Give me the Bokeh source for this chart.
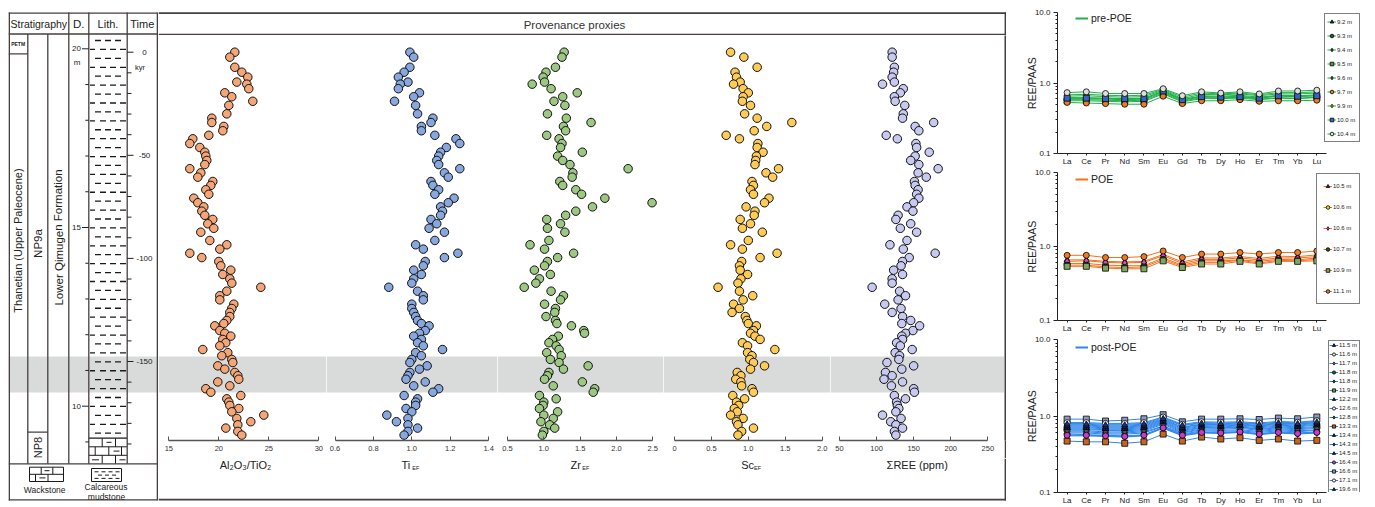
from bokeh.plotting import figure
from bokeh.models import (Range1d, FixedTicker, Legend, LegendItem, BoxAnnotation,
                          PrintfTickFormatter, Spacer)
from bokeh.layouts import row, column
from bokeh.embed import file_html
from bokeh.resources import INLINE
from bokeh.core.properties import value
from bokeh.core.validation import silence
from bokeh.core.validation.warnings import MISSING_RENDERERS

silence(MISSING_RENDERERS, True)

# ------------------------------------------------------------------ data
TIME_KYR = [0, -2.4, -7.3, -9.7, -12.1, -14.5, -15.5, -17.7, -19.7, -21.6,
            -23.8, -25.8, -29.9, -32.0, -34.1, -36.0, -38.1, -40.3, -42.0, -44.3,
            -46.2, -48.5, -50.4, -52.5, -54.5, -56.5, -58.5, -60.6, -62.7, -64.6,
            -66.7, -68.9, -70.8, -73.0, -75.0, -77.1, -79.1, -81.1, -83.2, -85.4,
            -87.3, -91.3, -93.4, -95.5, -97.5, -99.6, -101.5, -103.6, -105.7, -107.8,
            -109.9, -112.0, -114.0, -115.9, -118.1, -120.1, -122.2, -124.3, -126.2, -128.2,
            -130.1, -131.6, -132.7, -135.0, -136.3, -137.7, -139.3, -140.9, -142.4, -144.2,
            -145.7, -147.2, -149.0, -150.5, -152.1, -153.7, -155.3, -156.9, -158.6, -159.9,
            -161.8, -163.2, -164.9, -166.5, -168.1, -169.7, -171.3, -172.8, -174.4, -176.0,
            -177.6, -179.2, -180.7, -182.3, -183.9, -185.7]

AL2O3_TIO2 = [21.6, 21.1, 21.6, 22.3, 22.9, 21.8, 22.8, 23.0, 20.6, 21.3,
              23.4, 21.0, 20.8, 19.3, 19.3, 20.5, 20.4, 19.0, 17.4, 17.1,
              18.1, 18.6, 18.7, 18.8, 18.6, 17.1, 18.2, 17.9, 19.4, 19.2,
              18.7, 19.0, 17.5, 17.9, 18.5, 18.3, 18.6, 19.4, 18.9, 19.5,
              18.2, 19.1, 20.8, 20.1, 17.1, 18.3, 20.0, 20.2, 21.2, 20.4,
              21.1, 21.3, 24.2, 20.8, 20.1, 20.1, 21.5, 21.3, 21.1, 21.1,
              20.8, 20.5, 19.6, 20.1, 20.6, 21.2, 20.4, 20.7, 20.1, 18.4,
              20.9, 20.3, 21.3, 21.4, 19.9, 20.6, 21.6, 21.9, 22.0, 19.9,
              21.1, 18.7, 19.2, 22.2, 20.8, 21.0, 21.1, 22.0, 21.3, 24.5,
              21.8, 23.2, 21.9, 20.7, 21.9, 22.3]

TI_EF = [0.99, 1.01, 0.99, 0.96, 0.93, 0.98, 0.94, 0.93, 1.04, 1.01,
         0.91, 1.02, 1.03, 1.11, 1.10, 1.05, 1.05, 1.12, 1.23, 1.25,
         1.18, 1.15, 1.14, 1.13, 1.14, 1.25, 1.17, 1.19, 1.10, 1.11,
         1.14, 1.12, 1.22, 1.19, 1.15, 1.16, 1.15, 1.10, 1.13, 1.09,
         1.17, 1.12, 1.02, 1.06, 1.24, 1.17, 1.07, 1.06, 1.01, 1.05,
         1.01, 1.00, 0.88, 1.03, 1.06, 1.06, 1.00, 1.00, 1.01, 1.02,
         1.03, 1.05, 1.09, 1.07, 1.04, 1.01, 1.05, 1.03, 1.06, 1.16,
         1.02, 1.05, 1.00, 0.99, 1.08, 1.04, 0.99, 0.98, 0.97, 1.07,
         1.01, 1.14, 1.11, 0.96, 1.03, 1.02, 1.02, 0.97, 1.00, 0.87,
         0.98, 0.92, 0.98, 1.03, 0.98, 0.96]

ZR_EF = [1.28, 1.25, 1.16, 1.03, 0.99, 1.01, 0.84, 1.10, 1.46, 1.26,
         1.14, 1.29, 1.05, 1.31, 1.65, 1.27, 1.30, 1.04, 1.21, 1.25,
         1.23, 1.53, 1.19, 1.26, 1.36, 2.16, 1.40, 1.39, 1.22, 1.26,
         1.44, 1.52, 1.84, 2.49, 1.67, 1.44, 1.30, 1.04, 1.23, 1.05,
         1.29, 1.07, 0.81, 1.01, 1.41, 1.19, 1.05, 1.01, 0.87, 1.09,
         0.94, 0.89, 0.73, 1.10, 1.27, 1.23, 1.01, 1.16, 1.15, 1.03,
         1.16, 1.18, 1.38, 1.55, 1.56, 1.20, 1.12, 1.07, 1.17, 1.21,
         1.04, 1.24, 1.09, 1.21, 1.61, 1.27, 1.07, 1.05, 1.01, 1.53,
         1.13, 1.70, 1.68, 0.94, 1.17, 1.00, 0.99, 0.94, 1.19, 1.00,
         1.13, 0.96, 1.08, 1.15, 1.00, 0.98]

SC_EF = [0.76, 0.94, 1.12, 0.82, 0.84, 0.89, 0.80, 0.93, 1.00, 0.93,
         0.92, 1.03, 0.95, 1.12, 1.59, 1.25, 1.08, 0.70, 0.88, 1.13,
         1.12, 1.20, 1.11, 1.10, 1.09, 1.41, 1.24, 1.33, 1.05, 1.07,
         1.03, 1.07, 1.28, 1.22, 0.97, 1.09, 1.08, 0.89, 1.03, 0.92,
         1.19, 1.00, 0.76, 0.92, 1.39, 1.16, 0.91, 0.88, 0.89, 0.99,
         0.90, 0.86, 0.59, 0.88, 1.06, 0.93, 0.80, 0.88, 0.78, 0.96,
         0.98, 1.00, 1.11, 1.07, 1.03, 1.09, 1.16, 0.92, 0.99, 1.36,
         0.99, 1.05, 1.02, 1.07, 1.22, 1.03, 0.85, 0.90, 0.83, 0.90,
         0.91, 1.05, 1.07, 0.79, 0.95, 0.84, 0.87, 0.81, 0.85, 0.76,
         0.93, 0.84, 0.86, 1.07, 0.91, 0.86]

SUM_REE = [121, 121, 124, 123, 121, 124, 108, 136, 132, 124,
           125, 138, 136, 135, 177, 152, 157, 113, 128, 153,
           154, 171, 152, 146, 157, 183, 156, 167, 151, 152,
           156, 154, 157, 150, 141, 149, 129, 126, 146, 132,
           154, 141, 118, 136, 179, 144, 135, 133, 123, 135,
           121, 121, 94, 131, 139, 129, 111, 133, 121, 135,
           146, 134, 158, 149, 139, 134, 135, 127, 132, 148,
           125, 131, 130, 114, 150, 134, 112, 121, 110, 135,
           120, 150, 151, 124, 139, 127, 128, 130, 126, 108,
           133, 119, 126, 135, 124, 126]

POE_BAND_KYR = [-165.0, -147.6]

DEPTH_TICKS_M = [20, 19, 18, 17, 16, 15, 14, 13, 12, 11, 10, 9]
DEPTH_LABELS_M = [20, 15, 10]
TIME_TICKS_KYR = [0, -10, -20, -30, -40, -50, -60, -70, -80, -90, -100,
                  -110, -120, -130, -140, -150, -160, -170, -180, -190]
TIME_LABELS_KYR = [0, -50, -100, -150]

AL_TICKS = [15, 20, 25, 30]
TI_TICKS = [0.6, 0.8, 1.0, 1.2, 1.4]
ZR_TICKS = [0.5, 1.0, 1.5, 2.0, 2.5]
SC_TICKS = [0, 0.5, 1.0, 1.5, 2.0]
REE_TICKS = [50, 100, 150, 200, 250]

ELEMENTS = ["La", "Ce", "Pr", "Nd", "Sm", "Eu", "Gd", "Tb", "Dy", "Ho", "Er", "Tm", "Yb", "Lu"]

PRE_NAMES = ["9.2 m", "9.3 m", "9.4 m", "9.5 m", "9.6 m", "9.7 m", "9.9 m", "10.0 m", "10.4 m"]
PRE_REE = [
    [0.62, 0.62, 0.61, 0.60, 0.61, 0.76, 0.58, 0.66, 0.65, 0.67, 0.63, 0.67, 0.66, 0.68],
    [0.58, 0.58, 0.57, 0.56, 0.57, 0.72, 0.55, 0.62, 0.61, 0.63, 0.59, 0.62, 0.61, 0.63],
    [0.65, 0.66, 0.64, 0.63, 0.64, 0.79, 0.60, 0.69, 0.68, 0.70, 0.66, 0.70, 0.70, 0.72],
    [0.56, 0.56, 0.55, 0.54, 0.55, 0.70, 0.54, 0.60, 0.60, 0.61, 0.58, 0.61, 0.60, 0.62],
    [0.60, 0.60, 0.59, 0.58, 0.59, 0.74, 0.57, 0.64, 0.63, 0.65, 0.61, 0.65, 0.64, 0.66],
    [0.53, 0.52, 0.51, 0.50, 0.50, 0.65, 0.51, 0.56, 0.56, 0.58, 0.55, 0.56, 0.56, 0.57],
    [0.68, 0.69, 0.67, 0.66, 0.67, 0.81, 0.63, 0.72, 0.70, 0.72, 0.68, 0.73, 0.73, 0.75],
    [0.61, 0.61, 0.60, 0.60, 0.60, 0.77, 0.58, 0.64, 0.63, 0.64, 0.61, 0.66, 0.65, 0.66],
    [0.73, 0.75, 0.71, 0.71, 0.71, 0.83, 0.66, 0.75, 0.72, 0.75, 0.70, 0.77, 0.77, 0.79],
]
PRE_MARKERS = ["triangle", "circle", "diamond", "square", "diamond", "circle", "diamond", "square", "circle"]
PRE_FILLS = ["#1f2f70", "#1d5e2a", "#444444", "#5f9444", "#2f6f66", "#f07a22", "#e8c400", "#3565c4", "#dedede"]

POE_NAMES = ["10.5 m", "10.6 m", "10.6 m", "10.7 m", "10.9 m", "11.1 m"]
POE_REE = [
    [0.66, 0.66, 0.63, 0.62, 0.63, 0.78, 0.62, 0.70, 0.70, 0.73, 0.69, 0.74, 0.73, 0.77],
    [0.59, 0.59, 0.56, 0.55, 0.55, 0.70, 0.56, 0.64, 0.64, 0.66, 0.63, 0.67, 0.66, 0.70],
    [0.63, 0.64, 0.61, 0.60, 0.61, 0.75, 0.59, 0.67, 0.67, 0.70, 0.66, 0.70, 0.70, 0.73],
    [0.56, 0.56, 0.53, 0.52, 0.53, 0.67, 0.54, 0.61, 0.61, 0.65, 0.60, 0.65, 0.64, 0.67],
    [0.54, 0.54, 0.51, 0.50, 0.50, 0.64, 0.52, 0.58, 0.58, 0.63, 0.58, 0.63, 0.63, 0.64],
    [0.76, 0.76, 0.71, 0.71, 0.73, 0.87, 0.71, 0.79, 0.79, 0.83, 0.79, 0.83, 0.83, 0.87],
]
POE_MARKERS = ["triangle", "circle", "diamond", "circle", "square", "circle"]
POE_FILLS = ["#1f2f70", "#f2d21c", "#d54bd5", "#1d5e2a", "#7aa85e", "#f07a22"]

POST_NAMES = ["11.5 m", "11.6 m", "11.7 m", "11.8 m", "11.8 m", "11.9 m", "12.2 m", "12.6 m", "12.8 m",
              "13.3 m", "13.4 m", "14.3 m", "14.5 m", "16.4 m", "16.6 m", "17.1 m", "19.6 m"]
POST_REE = [
    [0.62, 0.62, 0.60, 0.60, 0.62, 0.74, 0.60, 0.66, 0.65, 0.66, 0.63, 0.66, 0.64, 0.66],
    [0.80, 0.80, 0.78, 0.78, 0.80, 0.95, 0.76, 0.82, 0.81, 0.82, 0.79, 0.83, 0.81, 0.85],
    [0.55, 0.55, 0.54, 0.53, 0.55, 0.69, 0.55, 0.60, 0.59, 0.61, 0.57, 0.60, 0.58, 0.60],
    [0.66, 0.66, 0.65, 0.64, 0.66, 0.80, 0.63, 0.70, 0.69, 0.71, 0.67, 0.70, 0.68, 0.71],
    [0.60, 0.60, 0.58, 0.58, 0.60, 0.73, 0.58, 0.64, 0.63, 0.64, 0.61, 0.64, 0.62, 0.65],
    [0.68, 0.68, 0.66, 0.66, 0.68, 0.82, 0.65, 0.71, 0.70, 0.72, 0.68, 0.72, 0.70, 0.73],
    [0.72, 0.72, 0.70, 0.70, 0.72, 0.86, 0.69, 0.75, 0.74, 0.76, 0.72, 0.76, 0.74, 0.78],
    [0.58, 0.57, 0.56, 0.55, 0.57, 0.71, 0.57, 0.62, 0.61, 0.62, 0.59, 0.62, 0.60, 0.62],
    [0.64, 0.64, 0.62, 0.62, 0.64, 0.78, 0.61, 0.68, 0.67, 0.69, 0.65, 0.68, 0.66, 0.69],
    [0.47, 0.46, 0.46, 0.44, 0.46, 0.58, 0.47, 0.53, 0.50, 0.52, 0.48, 0.50, 0.47, 0.48],
    [0.70, 0.70, 0.68, 0.68, 0.70, 0.84, 0.67, 0.73, 0.72, 0.74, 0.70, 0.74, 0.72, 0.76],
    [0.76, 0.76, 0.74, 0.74, 0.76, 0.90, 0.72, 0.78, 0.77, 0.79, 0.75, 0.80, 0.78, 0.82],
    [0.74, 0.74, 0.72, 0.72, 0.74, 0.88, 0.71, 0.77, 0.76, 0.77, 0.74, 0.78, 0.76, 0.80],
    [0.56, 0.56, 0.55, 0.54, 0.56, 0.70, 0.56, 0.61, 0.60, 0.62, 0.58, 0.61, 0.59, 0.61],
    [0.91, 0.91, 0.86, 0.88, 0.92, 1.04, 0.84, 0.91, 0.91, 0.92, 0.90, 0.94, 0.92, 0.97],
    [0.82, 0.82, 0.80, 0.80, 0.82, 0.97, 0.78, 0.84, 0.83, 0.84, 0.81, 0.85, 0.83, 0.87],
    [0.78, 0.78, 0.76, 0.76, 0.78, 0.92, 0.75, 0.80, 0.79, 0.81, 0.77, 0.81, 0.79, 0.83],
]
POST_MARKERS = ["triangle", "circle", "diamond", "circle", "diamond", "square", "triangle", "circle", "diamond",
                "square", "triangle", "diamond", "triangle", "circle", "square", "circle", "triangle"]
POST_FILLS = ["#1f2f70", "#f4ec90", "#d54bd5", "#1d5e2a", "#444444", "#6f9a52", "#1f2f70", "#f2f2f2", "#555555",
              "#c8641c", "#1f2f70", "#333333", "#1f2f70", "#c83cc8", "#8e98c8", "#ffffff", "#1f2f70"]

REE_YTICKS = [0.1, 1, 10]
REE_YMINOR = [0.2, 0.3, 0.4, 0.5, 0.6, 0.7, 0.8, 0.9, 2, 3, 4, 5, 6, 7, 8, 9]

# ------------------------------------------------------------------ style / layout
FONT = "Liberation Sans"
BOX = "#463f3f"
INK = "#222222"
AXC = "#555555"
BAND = "#d9dbdb"


def t_of(ypx):      # page pixel row -> time (kyr)
    return (51.7 - ypx) / 2.062


def d_of(ypx):      # page pixel row -> depth (m)
    return 20 - (ypx - 48.3) / 35.74


def bare(fig):
    fig.grid.visible = False
    return fig


def canvas(w, h, x0, y0):
    return bare(figure(width=w, height=h, x_range=Range1d(x0, x0 + w), y_range=Range1d(y0 + h, y0),
                       toolbar_location=None, output_backend="svg", min_border=0,
                       x_axis_location=None, y_axis_location=None, outline_line_color=None))


def rule(w, h):
    f = figure(width=w, height=h, toolbar_location=None, output_backend="svg", min_border=0,
               x_axis_location=None, y_axis_location=None, outline_line_color=None,
               background_fill_color=BOX, border_fill_color=BOX)
    return bare(f)


def txt(fig, x, y, s, size, align="center", angle=0, style="normal", color=INK):
    fig.text(x=[x], y=[y], text=[s], text_font=value(FONT), text_font_size=value(size),
             text_align=align, text_baseline="middle", angle=angle, text_font_style=style,
             text_color=color)


# ------------------------------------------------------------------ stratigraphy
S = canvas(150, 494, 8, 8)
S.extra_y_ranges = {"time": Range1d(t_of(502), t_of(8)), "depth": Range1d(d_of(502), d_of(8))}

S.quad(left=[8], right=[157], bottom=[POE_BAND_KYR[0]], top=[POE_BAND_KYR[1]],
       y_range_name="time", fill_color=BAND, line_color=None)

# lithology: mudstone dashes
dx0, dx1, dy = [], [], []
for i in range(45):
    yy = 40 + i * 8.925
    segs = [(94.5, 100.5), (104.5, 110.5), (114.5, 120.5)] if i % 2 == 0 else \
           [(89.5, 94.5), (99.5, 105.5), (109.5, 115.5), (119.5, 125.5)]
    for a, b in segs:
        dx0.append(a); dx1.append(b); dy.append(yy)
S.segment(x0=dx0, y0=dy, x1=dx1, y1=dy, line_color="#1a1a1a", line_width=1.3)

# wackstone bricks at the base
bx0 = [88.3, 88.3, 101.7, 115, 94.7, 108.3, 121, 101.7, 115, 106, 113, 91.5, 119]
by0 = [446.3, 454.8, 437.7, 437.7, 446.3, 446.3, 446.3, 454.8, 454.8, 441.8, 450.6, 459.3, 459.3]
bx1 = [126.7, 126.7, 101.7, 115, 94.7, 108.3, 121, 101.7, 115, 111, 119, 98.5, 125]
by1 = [446.3, 454.8, 446.3, 446.3, 454.8, 454.8, 454.8, 463.3, 463.3, 441.8, 450.6, 459.3, 459.3]
S.segment(x0=bx0, y0=by0, x1=bx1, y1=by1, line_color="#1a1a1a", line_width=1)
S.segment(x0=[88.3], y0=[437.7], x1=[126.7], y1=[437.7], line_color="#1a1a1a", line_width=1.2)

# frame and columns
fx0 = [8, 8, 8, 8, 68.3, 88.3, 126.7, 27.3, 47.3, 8, 27.3]
fy0 = [12.6, 499.4, 33.5, 463.3, 12, 12, 12, 33.5, 33.5, 53.3, 431.7]
fx1 = [157, 157, 157, 157, 68.3, 88.3, 126.7, 27.3, 47.3, 27.3, 47.3]
fy1 = [12.6, 499.4, 33.5, 463.3, 463.3, 463.3, 463.3, 463.3, 463.3, 53.3, 431.7]
S.segment(x0=fx0, y0=fy0, x1=fx1, y1=fy1, line_color=BOX, line_width=1.3)
S.segment(x0=[8.7, 157], y0=[12, 12], x1=[8.7, 157], y1=[500, 500], line_color=BOX, line_width=1.6)

# depth ticks (m)
S.segment(x0=[81.5 if d in DEPTH_LABELS_M else 84.8 for d in DEPTH_TICKS_M], y0=DEPTH_TICKS_M,
          x1=[88.3] * len(DEPTH_TICKS_M), y1=DEPTH_TICKS_M, y_range_name="depth",
          line_color=INK, line_width=1)
S.text(x=[80.5] * len(DEPTH_LABELS_M), y=DEPTH_LABELS_M, text=[str(d) for d in DEPTH_LABELS_M],
       y_range_name="depth", text_font=value(FONT), text_font_size=value("8px"),
       text_align="right", text_baseline="middle", text_color=INK)
txt(S, 76.5, 62, "m", "8px")

# time ticks (kyr)
S.segment(x0=[126.7] * len(TIME_TICKS_KYR), y0=TIME_TICKS_KYR,
          x1=[133 if t in TIME_LABELS_KYR else 131 for t in TIME_TICKS_KYR], y1=TIME_TICKS_KYR,
          y_range_name="time", line_color=INK, line_width=1)
S.text(x=[144] * len(TIME_LABELS_KYR), y=TIME_LABELS_KYR, text=[str(t) for t in TIME_LABELS_KYR],
       y_range_name="time", text_font=value(FONT), text_font_size=value("8px"),
       text_align="center", text_baseline="middle", text_color=INK)
txt(S, 139.5, 66.5, "kyr", "7.5px")

# headers and unit names
txt(S, 38.3, 23, "Stratigraphy", "10.5px")
txt(S, 78.3, 23, "D.", "11.5px")
txt(S, 107.5, 23, "Lith.", "11px")
txt(S, 141.8, 23, "Time", "11px")
txt(S, 17.6, 43, "PETM", "5px", style="bold")
txt(S, 17.6, 240, "Thanetian (Upper Paleocene)", "11px", angle=1.5708)
txt(S, 37.3, 243, "NP9a", "11.5px", angle=1.5708)
txt(S, 37.3, 447, "NP8", "11px", angle=1.5708)
txt(S, 58, 237, "Lower Qimugen Formation", "11.5px", angle=1.5708)

# legend symbols
lx0 = [29, 29, 29, 63, 29, 40.7, 52.3, 35, 47.5, 44, 39, 91, 91, 91, 121]
ly0 = [466.7, 481, 466.7, 466.7, 473.8, 466.7, 466.7, 473.8, 473.8, 470.2, 477.4, 468, 481, 468, 468]
lx1 = [63, 63, 29, 63, 63, 40.7, 52.3, 35, 47.5, 49, 45, 121, 121, 91, 121]
ly1 = [466.7, 481, 481, 481, 473.8, 473.8, 473.8, 481, 481, 470.2, 477.4, 468, 481, 481, 481]
S.segment(x0=lx0, y0=ly0, x1=lx1, y1=ly1, line_color="#1a1a1a", line_width=1)
mx0, mx1, my = [], [], []
for k, yy in enumerate([471.3, 474.6, 477.9]):
    for a in ([94, 101, 108, 115] if k % 2 == 0 else [97.5, 104.5, 111.5]):
        mx0.append(a); mx1.append(a + 4); my.append(yy)
S.segment(x0=mx0, y0=my, x1=mx1, y1=my, line_color="#1a1a1a", line_width=1)
txt(S, 44.2, 489.5, "Wackstone", "8.5px")
txt(S, 105.5, 486, "Calcareous", "8.5px")
txt(S, 106, 496, "mudstone", "8.5px")

# ------------------------------------------------------------------ provenance header / titles
H = canvas(848, 27, 158, 8)
H.segment(x0=[158, 158, 1005], y0=[12.6, 34.2, 12], x1=[1006, 1006, 1005], y1=[12.6, 34.2, 35],
          line_color=BOX, line_width=1.8)
txt(H, 574, 24, "Provenance proxies", "11.5px", color="#333333")

T = canvas(848, 44, 158, 458)
T.segment(x0=[158, 1005], y0=[499.2, 458], x1=[1006, 1005], y1=[499.2, 500],
          line_color=BOX, line_width=1.8)
txt(T, 245, 464, "Al\u2082O\u2083/TiO\u2082", "11px")
txt(T, 401, 464, "Ti", "11px", align="left")
txt(T, 411.8, 467.5, "EF", "5.5px", align="left")
txt(T, 570, 464, "Zr", "11px", align="left")
txt(T, 581.8, 467.5, "EF", "5.5px", align="left")
txt(T, 740.7, 464, "Sc", "11px", align="left")
txt(T, 753.6, 467.5, "EF", "5.5px", align="left")
txt(T, 916.7, 464, "\u03a3REE (ppm)", "11px")

# ------------------------------------------------------------------ scatter panels
PANELS = [
    # values, colour, width, frame-left px, anchor value, anchor px, px per unit, ticks, fmt
    (AL2O3_TIO2, "#f5a677", 168, 158, 15, 168.3, 10.0, AL_TICKS, "%d"),
    (TI_EF, "#87a7de", 171, 326, 0.6, 334.5, 192.0, TI_TICKS, "%.1f"),
    (ZR_EF, "#9cc882", 166, 497, 0.5, 507.0, 72.65, ZR_TICKS, "%.1f"),
    (SC_EF, "#fecb55", 167, 663, 0.0, 674.0, 73.8, SC_TICKS, "%.1f"),
    (SUM_REE, "#c7c9f1", 174, 830, 50, 839.0, 0.7417, REE_TICKS, "%d"),
]

scat = []
for vals, col, w, left, av, ap, ppu, ticks, fmt in PANELS:
    xr = Range1d(av + (left - ap) / ppu, av + (left + w - ap) / ppu)
    p = bare(figure(width=w, height=423, x_range=xr, y_range=Range1d(t_of(440), t_of(35)),
                    toolbar_location=None, output_backend="svg", min_border_left=0,
                    min_border_right=0, min_border_top=0, min_border_bottom=18,
                    y_axis_location=None, outline_line_color=None))
    p.add_layout(BoxAnnotation(bottom=POE_BAND_KYR[0], top=POE_BAND_KYR[1], fill_color=BAND,
                               fill_alpha=1, line_color=None, level="underlay"))
    p.scatter(x=vals, y=TIME_KYR, size=8.5, fill_color=col, line_color="#111111", line_width=1)
    ax = p.xaxis[0]
    ax.bounds = (ticks[0], ticks[-1])
    ax.ticker = FixedTicker(ticks=ticks)
    ax.formatter = PrintfTickFormatter(format=fmt)
    if ticks[0] == 0:
        ax.major_label_overrides = {0: "0"}
    ax.axis_line_color = AXC
    ax.axis_line_width = 1.3
    ax.major_tick_line_color = AXC
    ax.major_tick_in = 4
    ax.major_tick_out = 0
    ax.minor_tick_line_color = None
    ax.major_label_text_font = FONT
    ax.major_label_text_font_size = "7.5px"
    ax.major_label_text_color = "#333333"
    ax.major_label_standoff = 5
    scat.append(p)

provenance = column(H, row(*scat, rule(2, 423)), T)

# ------------------------------------------------------------------ REE / PAAS panels
ELEM_POS = list(range(len(ELEMENTS)))
PX_PER_ELEM = 19.21


def ree_panel(h, top_b, bot_b, names, vals, markers, fills, lc, glabel, vy, pad, sp, ih):
    frame_w = 369 - 51 - 14
    p = bare(figure(width=369, height=h,
                    x_range=Range1d(-0.5, -0.5 + frame_w / PX_PER_ELEM),
                    y_range=Range1d(0.1, 10), y_axis_type="log", toolbar_location=None,
                    output_backend="svg", min_border_left=51, min_border_right=14,
                    min_border_top=top_b, min_border_bottom=bot_b, outline_line_color=None))
    items = []
    for nm, v, mk, fc in zip(names, vals, markers, fills):
        lr = p.line(x=ELEM_POS, y=v, line_color=lc, line_width=1)
        sr = p.scatter(x=ELEM_POS, y=v, marker=mk, size=7 if mk == "diamond" else 6,
                       fill_color=fc, line_color="black", line_width=0.8)
        items.append(LegendItem(label=value(nm), renderers=[lr, sr]))
    leg = Legend(items=items, location="top_right", orientation="vertical", margin=1,
                 padding=pad, spacing=sp, glyph_width=9, glyph_height=ih, label_height=ih,
                 label_standoff=1, label_text_font=FONT, label_text_font_size="6px",
                 label_text_color=INK, border_line_color="black", border_line_width=1.5,
                 background_fill_color="white", background_fill_alpha=1)
    p.add_layout(leg)
    # group key: a line kept below the visible range so only its legend swatch shows
    gr = p.line(x=ELEM_POS[:2], y=[1e-3, 1e-3], line_color=lc, line_width=2)
    g = Legend(items=[LegendItem(label=value(glabel), renderers=[gr])], location=(18, vy),
               border_line_color=None, background_fill_alpha=0, padding=0, margin=0,
               glyph_width=13, glyph_height=12, label_height=12, label_standoff=3,
               label_text_font=FONT, label_text_font_size="10.5px", label_text_color=INK)
    p.add_layout(g)
    ya = p.yaxis[0]
    ya.ticker = FixedTicker(ticks=REE_YTICKS, minor_ticks=REE_YMINOR)
    ya.formatter = PrintfTickFormatter(format="%.1f")
    ya.axis_label = "REE/PAAS"
    ya.axis_label_text_font = FONT
    ya.axis_label_text_font_size = "10.5px"
    ya.axis_label_text_font_style = "normal"
    ya.axis_label_text_color = INK
    ya.axis_label_standoff = -6
    ya.major_label_standoff = 3
    ya.major_tick_in = 0
    ya.major_tick_out = 4
    ya.minor_tick_in = 0
    ya.minor_tick_out = 2
    xa = p.xaxis[0]
    xa.bounds = (-0.5, ELEM_POS[-1] + 0.5)
    xa.ticker = FixedTicker(ticks=ELEM_POS)
    xa.major_label_overrides = {i: el for i, el in zip(ELEM_POS, ELEMENTS)}
    xa.minor_tick_line_color = None
    xa.major_tick_in = 0
    xa.major_tick_out = 2
    xa.major_label_standoff = 1
    for a in (xa, ya):
        a.axis_line_color = "#222222"
        a.major_tick_line_color = "#222222"
        a.major_label_text_font = FONT
        a.major_label_text_font_size = "8px"
        a.major_label_text_color = INK
    ya.minor_tick_line_color = "#222222"
    return p


R1 = ree_panel(160, 4, 13, PRE_NAMES, PRE_REE, PRE_MARKERS, PRE_FILLS, "#22b04a", "pre-POE",
               129, 2, 3, 11)
R2 = ree_panel(167, 4, 14, POE_NAMES, POE_REE, POE_MARKERS, POE_FILLS, "#f5701f", "POE",
               135, 6, 9, 12)
R3 = ree_panel(172, 4, 11, POST_NAMES, POST_REE, POST_MARKERS, POST_FILLS, "#2f86ec", "post-POE",
               139, 0, 1, 8)

layout = column(Spacer(height=8),
                row(Spacer(width=8), row(S, provenance), column(R1, R2, R3)))

open("out.html", "w").write(file_html(layout, INLINE))
